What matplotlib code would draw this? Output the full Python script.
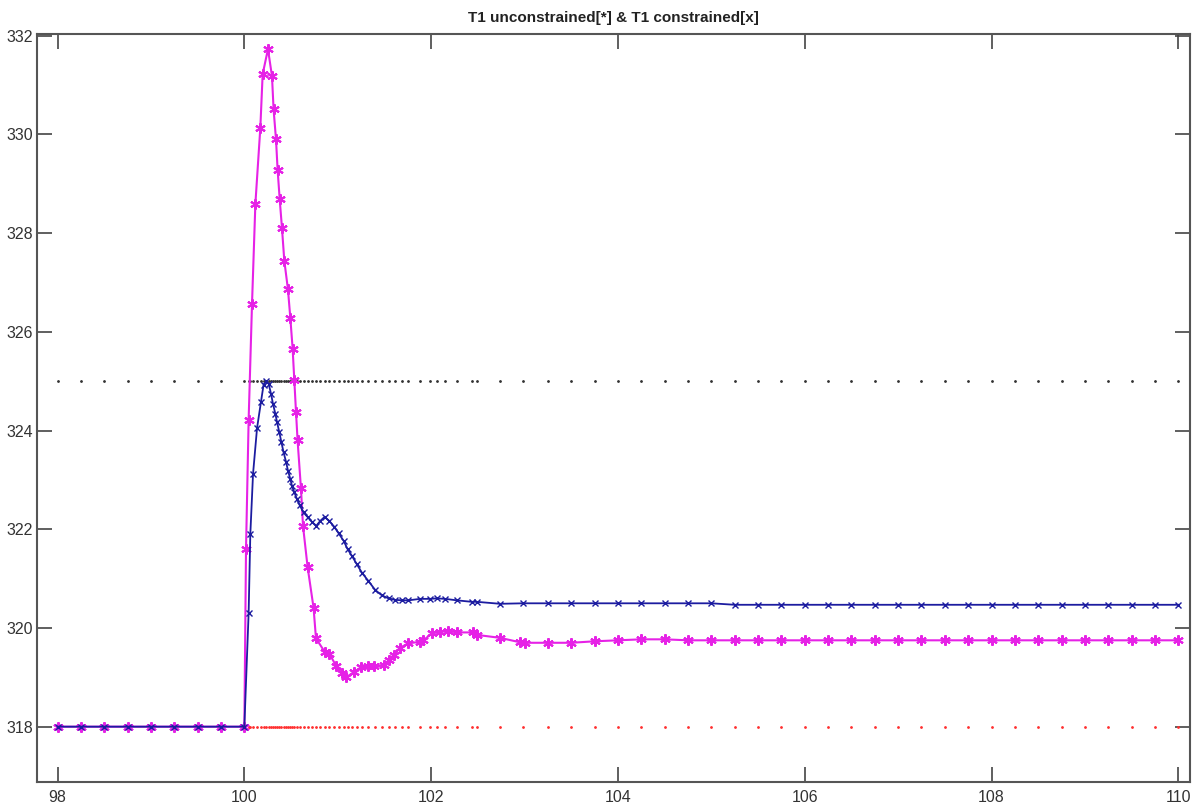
import matplotlib
matplotlib.use("Agg")
import matplotlib.pyplot as plt

# time samples (steady-state part is every 0.25 s)
pre_t = [98.0, 98.25, 98.5, 98.75, 99.0, 99.25, 99.5, 99.75]
tail_t = [103.25, 103.5, 103.75, 104.0, 104.25, 104.5, 104.75, 105.0,
          105.25, 105.5, 105.75, 106.0, 106.25, 106.5, 106.75, 107.0,
          107.25, 107.5, 107.75, 108.0, 108.25, 108.5, 108.75, 109.0,
          109.25, 109.5, 109.75, 110.0]

# T1 unconstrained
t_unc = pre_t + [100.0, 100.018, 100.046, 100.082, 100.118, 100.171, 100.196,
                 100.253, 100.296, 100.313, 100.339, 100.356, 100.378, 100.403,
                 100.428, 100.467, 100.492, 100.517, 100.535, 100.553, 100.570,
                 100.606, 100.628, 100.677, 100.741, 100.767, 100.859, 100.909,
                 100.984, 101.045, 101.09, 101.169, 101.248, 101.329, 101.383,
                 101.497, 101.554, 101.597, 101.668, 101.757, 101.882, 101.918,
                 102.007, 102.096, 102.185, 102.275, 102.452, 102.489, 102.738,
                 102.952, 103.0] + tail_t
T1_unc = [318.0] * 8 + [318.0, 321.61, 324.22, 326.56, 328.59, 330.13, 331.22,
                        331.73, 331.18, 330.51, 329.90, 329.29, 328.70, 328.10,
                        327.44, 326.86, 326.29, 325.66, 325.02, 324.38, 323.80,
                        322.83, 322.07, 321.24, 320.41, 319.79, 319.52, 319.48,
                        319.23, 319.08, 319.00, 319.10, 319.20, 319.22, 319.22,
                        319.24, 319.36, 319.45, 319.60, 319.69, 319.72, 319.75,
                        319.89, 319.92, 319.94, 319.91, 319.91, 319.86, 319.80,
                        319.71, 319.70,
                        319.70, 319.70, 319.73, 319.75, 319.77, 319.77, 319.75, 319.75,
                        319.75, 319.75, 319.75, 319.75, 319.75, 319.75, 319.75, 319.75,
                        319.75, 319.75, 319.75, 319.75, 319.75, 319.75, 319.75, 319.75,
                        319.75, 319.75, 319.75, 319.75]

# T1 constrained
t_con = pre_t + [100.0, 100.046, 100.064, 100.093, 100.136, 100.178, 100.206,
                 100.235, 100.26, 100.285, 100.307, 100.332, 100.35, 100.374,
                 100.396, 100.42, 100.446, 100.467, 100.492, 100.51, 100.535,
                 100.564, 100.592, 100.634, 100.681, 100.724, 100.77, 100.813,
                 100.859, 100.909, 100.963, 101.009, 101.062, 101.105, 101.152,
                 101.205, 101.259, 101.329, 101.401, 101.473, 101.544, 101.615,
                 101.687, 101.757, 101.882, 101.989, 102.061, 102.15, 102.275,
                 102.435, 102.489, 102.738, 102.987] + tail_t
T1_con = [318.0] * 8 + [318.0, 320.31, 321.90, 323.12, 324.05, 324.58, 324.93,
                        325.00, 324.95, 324.75, 324.54, 324.34, 324.17, 323.97,
                        323.77, 323.56, 323.37, 323.19, 323.02, 322.88, 322.75,
                        322.61, 322.49, 322.34, 322.24, 322.15, 322.07, 322.17,
                        322.25, 322.17, 322.05, 321.92, 321.77, 321.60, 321.46,
                        321.29, 321.12, 320.95, 320.77, 320.66, 320.60, 320.57,
                        320.56, 320.56, 320.59, 320.59, 320.60, 320.59, 320.56,
                        320.53, 320.53, 320.49, 320.50,
                        320.50, 320.50, 320.50, 320.50, 320.50, 320.50, 320.50, 320.50,
                        320.47, 320.47, 320.47, 320.47, 320.47, 320.47, 320.47, 320.47,
                        320.47, 320.47, 320.47, 320.47, 320.47, 320.47, 320.47, 320.47,
                        320.47, 320.47, 320.47, 320.47]

T_max = 325.0   # upper limit
T_ref = 318.0   # initial value

xticks = [98, 100, 102, 104, 106, 108, 110]
yticks = [318, 320, 322, 324, 326, 328, 330, 332]

plt.rcParams['font.family'] = ['Liberation Sans', 'DejaVu Sans']

fig = plt.figure(figsize=(11.99, 8.07), dpi=100)
ax = fig.add_axes([37 / 1199, 1 - 781.7 / 807, (1190 - 37) / 1199, (781.7 - 34.3) / 807])

# limit lines drawn as dots at the solver time steps
ax.plot(t_con, [T_max] * len(t_con), linestyle='none', marker='.', markersize=2,
        color='#333333')
ax.plot(t_con, [T_ref] * len(t_con), linestyle='none', marker='.', markersize=2,
        color='#ff3030')

# asterisk markers like MATLAB '*'
ax.plot(t_unc, T1_unc, color='#e622e6', linewidth=1.5, marker=(6, 2, 0),
        markersize=7.5, markeredgewidth=1.5)
ax.plot(t_con, T1_con, color='#1c1ca0', linewidth=1.3, marker='x', markersize=5,
        markeredgewidth=1.0)

ax.set_xlim(97.78, 110.125)
ax.set_ylim(316.885, 332.03)
ax.set_xticks(xticks)
ax.set_yticks(yticks)
ax.tick_params(direction='in', length=11, width=1.2, colors='#444444',
               labelcolor='#333333', labelsize=11.5, top=True, right=True)
ax.tick_params(axis='y', pad=3)
ax.tick_params(axis='x', pad=6)
for s in ax.spines.values():
    s.set_color('#555555')
    s.set_linewidth(1.5)

ax.set_title('T1 unconstrained[*] & T1 constrained[x]', fontsize=11,
             fontweight='bold', color='#222222', pad=9)

fig.savefig('out.png', dpi=100)
